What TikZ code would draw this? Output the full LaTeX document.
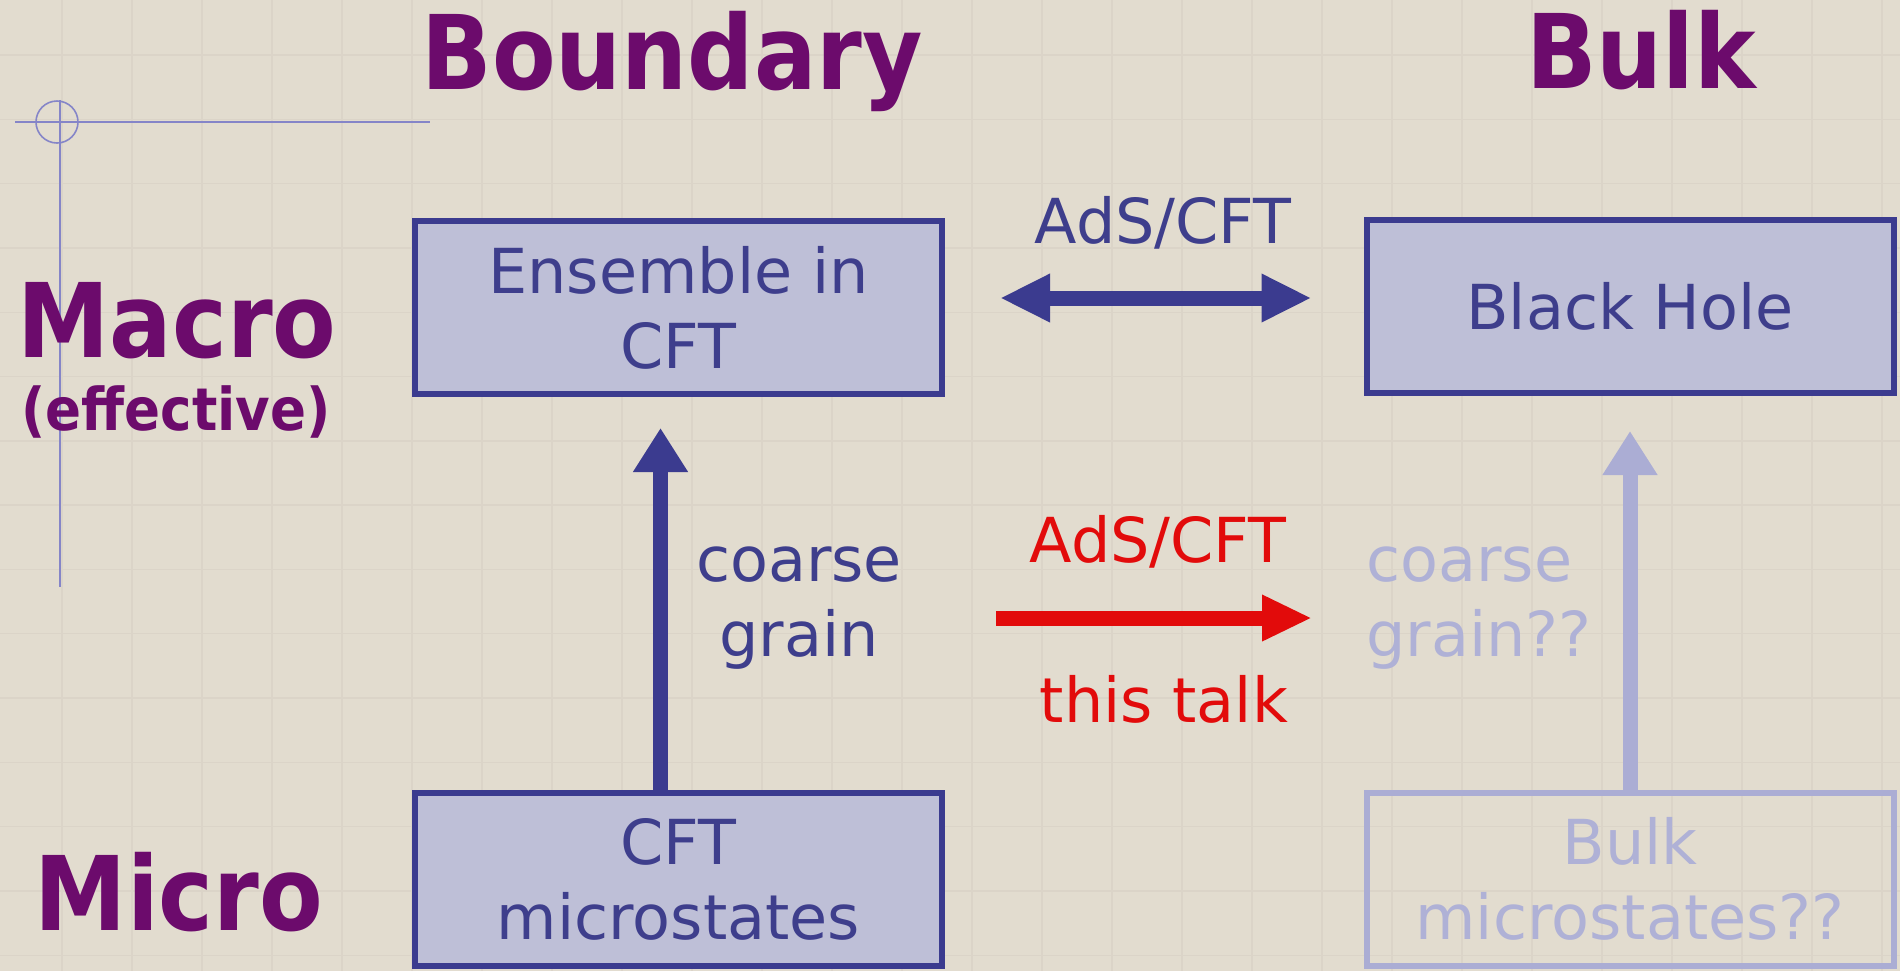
\documentclass[tikz,border=0pt]{standalone}
\usepackage{fontspec}
\setmainfont{DejaVu Sans}
\newfontfamily\condbf{DejaVu Sans Condensed Bold}
\usetikzlibrary{arrows.meta}
\definecolor{bg}{HTML}{E2DCCF}
\definecolor{gridc}{HTML}{DBD4C8}
\definecolor{purp}{HTML}{6C0B6C}
\definecolor{dblue}{HTML}{3B3B8F}
\definecolor{dtext}{HTML}{3E3E8C}
\definecolor{boxf}{HTML}{BEBFD7}
\definecolor{fadeb}{HTML}{ABADD4}
\definecolor{fadet}{HTML}{AFB1D6}
\definecolor{redc}{HTML}{E20B0B}
\definecolor{crossc}{HTML}{8585C8}
\newcommand\bodyfont{\fontsize{31}{37.5}\selectfont}
\tikzset{
  title/.style={text=purp, font=\condbf\fontsize{51.5}{60}\selectfont, anchor=base, inner sep=0pt},
  subtitle/.style={text=purp, font=\condbf\fontsize{29.5}{34}\selectfont, anchor=base, inner sep=0pt},
  box/.style={draw=dblue, fill=boxf, line width=3pt, minimum width=263.5pt, minimum height=86.5pt,
    inner sep=0pt, align=center, text=dtext, font=\bodyfont},
  fadebox/.style={box, draw=fadeb, fill=none, text=fadet},
  lbl/.style={font=\bodyfont, inner sep=0pt},
  darr/.style={draw=dblue, line width=7.5pt,
    {Triangle[width=22.5pt,length=25pt]}-{Triangle[width=22.5pt,length=25pt]}},
  uarr/.style={draw=dblue, line width=7.5pt, -{Triangle[width=26pt,length=22pt]}},
  fadearr/.style={uarr, draw=fadeb},
  rarr/.style={draw=redc, line width=7.5pt, -{Triangle[width=21.5pt,length=25pt]}},
  crossline/.style={draw=crossc, line width=1pt}
}
\begin{document}
\begin{tikzpicture}[x=0.5pt,y=-0.5pt]
\fill[bg] (0,0) rectangle (1900,971);
\useasboundingbox (0,0) rectangle (1900,971);
% faint background grid
\foreach \i in {0,...,26} \draw[gridc, line width=0.7pt] ({62+70*\i},0) -- ++(0,971);
\foreach \j in {0,...,14} \draw[gridc, line width=0.7pt] (0,{55+64.3*\j}) -- ++(1900,0);
% crosshair mark
\draw[crossline] (15,122) -- (430,122);
\draw[crossline] (60,100) -- (60,587);
\draw[crossline, line width=0.8pt] (57,122) circle[radius=21];
% titles
\node[title] (tboundary) at (672,89) {Boundary};
\node[title] (tbulk) at (1641,88) {Bulk};
\node[title] (tmacro) at (177,357) {Macro};
\node[subtitle] (teff) at (176,430) {(effective)};
\node[title] (tmicro) at (179,930) {Micro};
% boxes
\node[box] (ens) at (678.5,307.5) {Ensemble in\\CFT};
\node[box] (bh) at (1630,306.5) {Black Hole};
\node[box] (cftm) at (678.5,879) {CFT\\microstates};
\node[fadebox] (bm) at (1630,879) {Bulk\\microstates??};
% labels
\node[lbl, text=dtext, anchor=base] (ads1) at (1163,243) {AdS/CFT};
\node[lbl, text=dtext, align=center] (cg) at (799,608) {coarse\\grain};
\node[lbl, text=fadet, align=left, anchor=west] (cgq) at (1366,608) {coarse\\grain??};
\node[lbl, text=redc, anchor=base] (ads2) at (1158,562) {AdS/CFT};
\node[lbl, text=redc, anchor=base] (talk) at (1164,722) {this talk};
% connectors
\draw[darr, shorten <=27.5pt, shorten >=26pt] ([yshift=4.75pt]ens.east) -- ([yshift=4.25pt]bh.west);
\draw[uarr, shorten >=15.5pt] ([xshift=-9pt]cftm.north) -- ([xshift=-9pt]ens.south);
\draw[fadearr, shorten >=17.5pt] (bm.north) -- (bh.south);
\coordinate (ra) at (996,618);
\coordinate (rb) at (1312,618);
\draw[rarr] (ra) -- (rb);
\end{tikzpicture}
\end{document}
